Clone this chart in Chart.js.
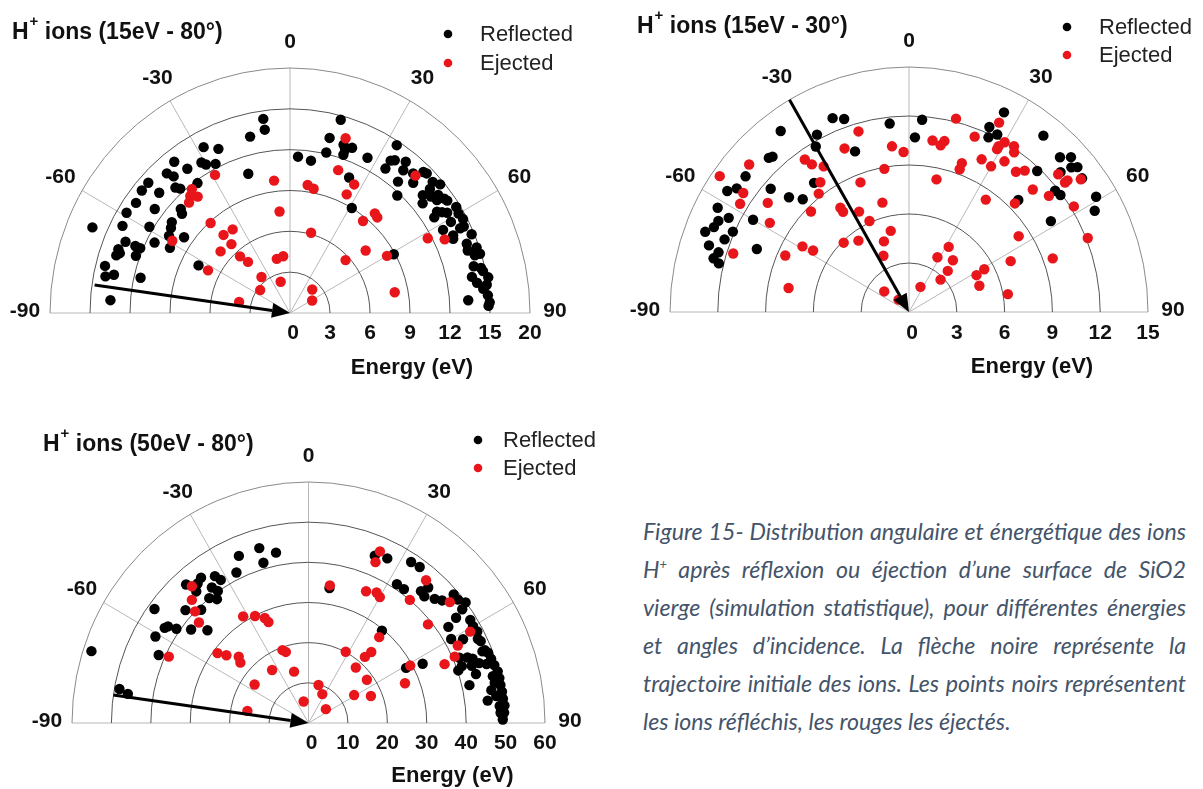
<!DOCTYPE html>
<html>
<head>
<meta charset="utf-8">
<title>Distribution angulaire et énergétique des ions H+</title>
<script src="https://cdn.jsdelivr.net/npm/chart.js@4.4.1/dist/chart.umd.min.js"></script>
<style>
    html, body { margin: 0; padding: 0; background: #fff; }
    body { width: 1203px; height: 789px; position: relative; overflow: hidden; }
    canvas { position: absolute; }
    #caption {
        position: absolute; left: 643px; top: 512px; width: 543px;
        color: #44546a; font-family: Lato, "Open Sans", sans-serif; font-style: italic; font-size: 19px;
    }
    #caption .line { height: 38px; line-height: 38px; text-align: justify; text-align-last: justify; }
    #caption .last { text-align-last: left; }
    #caption sup { font-size: 0.55em; line-height: 0; vertical-align: 0.7em; }
</style>
</head>
<body>
<canvas id="chart1" width="610" height="395" style="left:0;top:0"></canvas>
<canvas id="chart2" width="588" height="395" style="left:615px;top:0"></canvas>
<canvas id="chart3" width="615" height="384" style="left:0;top:405px"></canvas>

<div id="caption">
    <div class="line">Figure 15- Distribution angulaire et énergétique des ions</div>
    <div class="line">H<sup>+</sup> après réflexion ou éjection d’une surface de SiO2</div>
    <div class="line">vierge (simulation statistique), pour différentes énergies</div>
    <div class="line">et angles d’incidence. La flèche noire représente la</div>
    <div class="line">trajectoire initiale des ions. Les points noirs représentent</div>
    <div class="line last">les ions réfléchis, les rouges les éjectés.</div>
</div>

<script>
// Angle (deg, 0 = surface normal) and energy (eV) of each ion

// H+ 15 eV - 80°
const reflAngle1 = [-8, -8, -13, -28, -24, 3, -38, -31, -30, -27, -36, -42, -41, -17, -48, -51, -43, -42, -36, -48,
    -55, -53, -59, -47, -48, -53, -63, -59, -55, -67, -58, -55, -67, -63, -70, -72, -71, -67, -67, -70,
    -62, -76, -63, -79, -78, -77, -86,
    15, 13, 13, 18, 19, 21, 19, 8, 27, 24, 31, 33, 34, 35, 38, 34, 39, 40, 43, 44,
    45, 44, 48, 50, 49, 51, 52, 54, 55, 51, 56, 57, 57, 58, 60, 62, 61, 64, 62, 65,
    66, 67, 69, 71, 71, 73, 61, 76, 77, 79, 81, 80, 82, 83, 85, 87, 86, 88,
    53, 58, 64, 73, 78, 49, 42];
const reflEnergy1 = [14.4, 13.6, 13.3, 13.8, 13.2, 11.5, 14.1, 12.9, 12.6, 12.3, 13.1, 13.8, 13.3, 10.7, 14.3, 14.3, 12.6, 12.3, 11.8, 13.2,
    14.1, 12.7, 14.3, 11.2, 10.9, 11.1, 14.1, 12.3, 10.9, 16.1, 10.7, 9.7, 13.4, 11.4, 13.7, 13.7, 13.5, 12.6, 12.2, 12.3,
    10.2, 14.3, 7.7, 14.1, 13.5, 11.5, 13.5,
    14.7, 13.2, 12.1, 13.0, 12.7, 13.0, 12.3, 11.3, 12.8, 10.9, 9.0, 14.7, 13.5, 13.7, 14.1, 12.8, 13.5, 12.6, 11.8, 14.4,
    14.5, 13.3, 14.4, 14.7, 13.2, 13.6, 14.1, 14.3, 14.4, 12.8, 13.3, 13.6, 12.9, 14.7, 14.6, 14.7, 13.8, 14.5, 13.0, 13.5,
    13.4, 14.8, 14.2, 14.8, 14.1, 14.9, 8.9, 14.2, 14.7, 13.9, 14.2, 15.1, 14.9, 14.6, 14.9, 15.0, 13.4, 14.9,
    13.8, 13.9, 14.2, 14.5, 14.8, 13.9, 13.8];
const ejecAngle1 = [-29, -7, -39, -41, -39, -43, -6, -42, -35, -41, -41, -49, -59, -42, -40, -14, -7, -63, -39, -17,
    -53, -78,
    18, 19, 43, 8, 11, 27, 26, 39, 41, 43, 15, 62, 65, 51, 47, 60, 44, 61, 79];
const ejecEnergy1 = [11.6, 9.8, 11.7, 11.4, 11.0, 11.1, 7.5, 8.9, 7.5, 7.6, 6.7, 6.9, 10.3, 5.6, 4.9, 4.1, 4.2, 6.9, 3.4, 2.4,
    2.8, 3.9,
    13.5, 11.1, 13.8, 9.5, 9.3, 10.6, 9.7, 8.7, 9.7, 9.6, 6.1, 11.7, 12.8, 7.3, 5.7, 8.4, 2.4, 1.9, 8.0];
const energyTicks1 = [0, 3, 6, 9, 12, 15, 18];
const energyLabels1 = ['0', '3', '6', '9', '12', '15', '20'];

// H+ 15 eV - 30°
const reflAngle2 = [-36, -22, -19, -28, -30, -19, -6, -43, -42, -51, -37, -49, -55, -57, -47, -44, -62, -63, -65, -60,
    -69, -67, -66, -69, -72, -73, -75, -76, -68,
    4, 2, 26, 24, 25, 27, 38, 43, 45, 47, 48, 49, 50, 53, 51, 53, 45, 59, 62, 58];
const reflEnergy2 = [13.7, 12.8, 12.5, 12.3, 11.7, 10.4, 11.6, 12.9, 12.8, 13.2, 9.9, 11.5, 13.2, 13.6, 10.3, 9.6, 13.6, 12.7, 13.2, 11.3,
    13.7, 13.3, 12.1, 12.4, 13.2, 12.5, 12.7, 12.3, 10.3,
    11.8, 10.7, 13.6, 12.4, 11.8, 12.2, 13.7, 11.8, 13.4, 13.9, 12.8, 13.5, 13.8, 13.6, 11.8, 11.9, 9.7, 13.7, 13.2, 10.5];
const ejecAngle2 = [-16, -22, -6, -2, -35, -34, -31, -48, -55, -10, -35, -21, -38, -55, -58, -53, -14, -34, -34, -45,
    -27, -24, -58, -13, -44, -36, -20, -59, -58, -72, -66, -25, -79, -51, -41,
    14, 26, 8, 11, 12, 21, 29, 29, 30, 33, 34, 26, 20, 20, 30, 33, 38, 40, 12, 46,
    51, 48, 51, 51, 53, 35, 45, 58, 56, 68, 32, 28, 41, 44, 45, 25, 62, 61, 70, 64,
    80, 70];
const ejecEnergy2 = [11.5, 10.8, 10.2, 9.8, 11.4, 10.9, 10.4, 13.5, 14.5, 8.9, 9.7, 8.5, 9.2, 12.7, 12.5, 11.1, 6.9, 7.7, 7.4, 8.7,
    6.9, 6.1, 10.3, 5.1, 5.9, 5.4, 4.6, 7.8, 7.1, 11.6, 8.5, 3.8, 7.7, 2.0, 1.0,
    12.2, 12.9, 10.6, 10.4, 10.7, 11.5, 11.4, 11.6, 12.0, 12.1, 11.8, 10.4, 9.7, 9.3, 10.3, 11.0, 10.9, 11.3, 8.3, 10.8,
    11.3, 12.6, 12.6, 12.8, 13.5, 8.4, 9.4, 12.2, 8.3, 12.1, 4.7, 3.8, 4.2, 3.5, 2.8, 1.7, 4.8, 5.4, 4.7, 7.1,
    6.3, 9.6];
const energyTicks2 = [0, 3, 6, 9, 12, 15];
const energyLabels2 = ['0', '3', '6', '9', '12', '15'];

// H+ 50 eV - 80°
const reflAngle3 = [-16, -11, -16, -23, -26, -42, -37, -39, -33, -32, -41, -36, -35, -39, -37, -54, -48, -44, -56, -57,
    -55, -52, -48, -61, -66, -72, -80, -81,
    22, 26, 33, 36, 9, 33, 36, 41, 42, 43, 46, 48, 49, 51, 54, 55, 58, 60, 62, 60,
    62, 65, 68, 69, 71, 73, 75, 77, 79, 81, 83, 85, 87, 89, 39, 61, 63, 67, 68, 69,
    71, 71, 77, 74, 78, 80, 82, 83, 71, 70,
    64, 68, 72, 76, 85, 87, 53, 56];
const reflEnergy3 = [45.3, 43.2, 41.5, 45.2, 41.7, 46.4, 45.3, 44.7, 43.6, 42.0, 43.4, 41.7, 40.1, 40.0, 38.6, 48.3, 42.0, 39.2, 43.0, 43.5,
    40.9, 37.8, 34.5, 44.4, 41.6, 57.9, 48.7, 46.4,
    44.9, 45.6, 47.8, 48.0, 34.0, 41.2, 41.2, 43.5, 45.4, 43.1, 44.5, 45.6, 48.8, 48.8, 48.2, 45.7, 48.4, 48.2, 48.5, 41.8,
    44.4, 48.2, 48.3, 48.8, 49.0, 49.3, 49.7, 49.7, 49.6, 49.7, 49.7, 49.9, 49.7, 49.3, 29.6, 28.3, 32.5, 41.6, 43.5, 44.6,
    43.8, 45.8, 41.9, 44.2, 48.3, 47.1, 48.1, 45.8, 40.2, 41.4,
    47.8, 47.6, 47.5, 48.2, 48.7, 48.8, 49.9, 42.8];
const ejecAngle3 = [-41, -44, -46, -48, -32, -27, -23, -22, -53, -51, -47, -49, -20, -18, -65, -35, -16, -55, -13, -79,
    23, 23, 9, 24, 28, 30, 40, 40, 50, 51, 63, 66, 61, 40, 28, 42, 41, 41, 54, 59,
    67, 61, 68, 67, 15, 26, 52];
const ejecEnergy3 = [45.1, 42.6, 40.0, 37.4, 31.3, 29.9, 28.4, 27.1, 28.9, 26.8, 24.2, 22.9, 19.3, 18.6, 39.1, 16.1, 13.3, 16.7, 5.5, 15.8,
    46.4, 43.5, 34.7, 35.9, 36.8, 36.2, 46.4, 40.0, 46.8, 39.0, 42.5, 40.6, 46.9, 27.9, 20.1, 23.8, 21.8, 18.3, 18.3, 13.5,
    17.2, 29.5, 26.4, 37.5, 9.8, 8.0, 5.6];
const energyTicks3 = [0, 10, 20, 30, 40, 50, 60];
const energyLabels3 = ['0', '10', '20', '30', '40', '50', '60'];

// Shared angular axis
const spokeAngles = [-60, -30, 0, 30, 60];
const angleLabels = [-90, -60, -30, 0, 30, 60, 90];

const BLACK = '#000000';
const RED = '#e8161b';
const FONT = '"Liberation Sans", Arial, sans-serif';
const DEG = Math.PI / 180;

const toXY = (angles, energies) => angles.map((a, i) => ({
    x: energies[i] * Math.sin(a * DEG),
    y: energies[i] * Math.cos(a * DEG)
}));

function geom(chart, max) {
    const { x, y } = chart.scales;
    const cx = x.getPixelForValue(0);
    const cy = y.getPixelForValue(0);
    return { x, y, cx, cy, rx: x.getPixelForValue(max) - cx, ry: cy - y.getPixelForValue(max) };
}

// Draws the half-polar grid, the incidence arrow and all the texts
const polarPlugin = {
    id: 'polar',
    beforeDatasetsDraw(chart, args, o) {
        const ctx = chart.ctx;
        const g = geom(chart, o.max);
        ctx.save();
        ctx.lineWidth = 1;
        ctx.strokeStyle = '#b8b8b8';
        spokeAngles.forEach(a => {
            ctx.beginPath();
            ctx.moveTo(g.cx, g.cy);
            ctx.lineTo(g.cx + g.rx * Math.sin(a * DEG), g.cy - g.ry * Math.cos(a * DEG));
            ctx.stroke();
        });
        ctx.beginPath();
        ctx.moveTo(g.cx - g.rx, g.cy);
        ctx.lineTo(g.cx + g.rx, g.cy);
        ctx.stroke();

        const rings = o.ticks.slice(1);
        rings.forEach((t, i) => {
            const r1 = g.x.getPixelForValue(t) - g.cx;
            const r2 = g.cy - g.y.getPixelForValue(t);
            ctx.strokeStyle = i === rings.length - 1 ? '#8a8a8a' : '#555';
            ctx.lineWidth = 1;
            ctx.beginPath();
            ctx.ellipse(g.cx, g.cy, r1, r2, 0, Math.PI, 2 * Math.PI);
            ctx.stroke();
        });
        ctx.restore();
    },
    afterDatasetsDraw(chart, args, o) {
        const ctx = chart.ctx;
        const g = geom(chart, o.max);
        const sx = g.x.getPixelForValue(o.arrowEnergy * Math.sin(o.arrowAngle * DEG));
        const sy = g.y.getPixelForValue(o.arrowEnergy * Math.cos(o.arrowAngle * DEG));
        const len = Math.hypot(g.cx - sx, g.cy - sy);
        const ux = (g.cx - sx) / len, uy = (g.cy - sy) / len;
        const headL = 18, headW = 7.5;
        const bx = g.cx - ux * headL, by = g.cy - uy * headL;
        ctx.save();
        ctx.strokeStyle = '#000';
        ctx.fillStyle = '#000';
        ctx.lineWidth = 3;
        ctx.beginPath();
        ctx.moveTo(sx, sy);
        ctx.lineTo(bx, by);
        ctx.stroke();
        ctx.beginPath();
        ctx.moveTo(g.cx, g.cy);
        ctx.lineTo(bx - uy * headW, by + ux * headW);
        ctx.lineTo(bx + uy * headW, by - ux * headW);
        ctx.closePath();
        ctx.fill();
        ctx.restore();
    },
    afterDraw(chart, args, o) {
        const ctx = chart.ctx;
        const g = geom(chart, o.max);
        ctx.save();
        ctx.fillStyle = '#111';
        ctx.textAlign = 'center';
        ctx.textBaseline = 'middle';

        // angle labels
        ctx.font = 'bold 21px ' + FONT;
        angleLabels.forEach(a => {
            let px, py;
            if (Math.abs(a) === 90) {
                px = g.cx + Math.sign(a) * (g.rx + 25);
                py = g.cy - 2;
            } else {
                px = g.cx + (g.rx + 25) * Math.sin(a * DEG);
                py = g.cy - (g.ry + 26) * Math.cos(a * DEG);
            }
            ctx.fillText(String(a), px, py);
        });

        // energy tick labels
        o.ticks.forEach((t, i) => {
            const px = g.x.getPixelForValue(t) + (i === 0 ? 3 : 0);
            ctx.fillText(o.tickLabels[i], px, g.cy + o.tickDy);
        });

        ctx.font = 'bold 22px ' + FONT;
        ctx.fillText('Energy (eV)', g.cx + o.axisTitleDx, g.cy + o.axisTitleDy);

        // title with superscript +
        ctx.textAlign = 'left';
        ctx.font = 'bold 23px ' + FONT;
        ctx.fillText('H', o.titleX, o.titleY);
        let tx = o.titleX + ctx.measureText('H').width + 1;
        ctx.font = 'bold 15px ' + FONT;
        ctx.fillText('+', tx, o.titleY - 11);
        tx += ctx.measureText('+').width;
        ctx.font = 'bold 23px ' + FONT;
        ctx.fillText(o.title, tx, o.titleY);

        // legend
        ctx.font = '22px ' + FONT;
        chart.data.datasets.forEach((ds, i) => {
            const ly = o.legendY + i * o.legendStep;
            ctx.fillStyle = ds.pointBackgroundColor;
            ctx.beginPath();
            ctx.arc(o.legendX, ly, 4.3, 0, 2 * Math.PI);
            ctx.fill();
            ctx.fillStyle = '#222';
            ctx.fillText(ds.label, o.legendX + o.legendGap, ly + 1);
        });
        ctx.restore();
    }
};

function makeChart(id, padding, opts, refl, ejec) {
    return new Chart(document.getElementById(id), {
        type: 'scatter',
        data: {
            datasets: [
                { label: 'Reflected', data: refl, pointBackgroundColor: BLACK, pointBorderWidth: 0, pointRadius: 5.2, order: 2, clip: false },
                { label: 'Ejected', data: ejec, pointBackgroundColor: RED, pointBorderWidth: 0, pointRadius: 5.2, order: 1, clip: false }
            ]
        },
        options: {
            responsive: false,
            animation: false,
            events: [],
            layout: { padding },
            scales: {
                x: { type: 'linear', min: -opts.max, max: opts.max, display: false },
                y: { type: 'linear', min: 0, max: opts.max, display: false }
            },
            plugins: {
                legend: { display: false },
                tooltip: { enabled: false },
                polar: opts
            }
        },
        plugins: [polarPlugin]
    });
}

makeChart('chart1', { left: 50, right: 80, top: 68, bottom: 82 }, {
    max: 18, ticks: energyTicks1, tickLabels: energyLabels1, tickDy: 20,
    axisTitleDx: 122, axisTitleDy: 55,
    arrowAngle: -82, arrowEnergy: 14.8,
    title: ' ions (15eV - 80°)', titleX: 12, titleY: 33,
    legendX: 448, legendY: 34, legendStep: 29, legendGap: 32
}, toXY(reflAngle1, reflEnergy1), toXY(ejecAngle1, ejecEnergy1));

makeChart('chart2', { left: 55, right: 55, top: 67, bottom: 83 }, {
    max: 15, ticks: energyTicks2, tickLabels: energyLabels2, tickDy: 21,
    axisTitleDx: 123, axisTitleDy: 55,
    arrowAngle: -30, arrowEnergy: 15,
    title: ' ions (15eV - 30°)', titleX: 22, titleY: 27,
    legendX: 452, legendY: 27, legendStep: 28, legendGap: 32
}, toXY(reflAngle2, reflEnergy2), toXY(ejecAngle2, ejecEnergy2));

makeChart('chart3', { left: 72, right: 70, top: 77, bottom: 66 }, {
    max: 60, ticks: energyTicks3, tickLabels: energyLabels3, tickDy: 20,
    axisTitleDx: 144, axisTitleDy: 53,
    arrowAngle: -82, arrowEnergy: 50,
    title: ' ions (50eV - 80°)', titleX: 43, titleY: 40,
    legendX: 478, legendY: 35, legendStep: 28, legendGap: 25
}, toXY(reflAngle3, reflEnergy3), toXY(ejecAngle3, ejecEnergy3));

// Fit the caption so the widest justified line fills the column
function fitCaption() {
    const cap = document.getElementById('caption');
    const lines = Array.from(cap.querySelectorAll('.line'));
    const probe = document.createElement('span');
    probe.style.whiteSpace = 'nowrap';
    probe.style.position = 'absolute';
    probe.style.visibility = 'hidden';
    cap.appendChild(probe);
    let widest = 0;
    lines.slice(0, 5).forEach(l => {
        probe.innerHTML = l.innerHTML;
        widest = Math.max(widest, probe.offsetWidth);
    });
    cap.removeChild(probe);
    const size = parseFloat(getComputedStyle(cap).fontSize);
    cap.style.fontSize = (size * 539 / widest).toFixed(2) + 'px';
}
fitCaption();
</script>
</body>
</html>
